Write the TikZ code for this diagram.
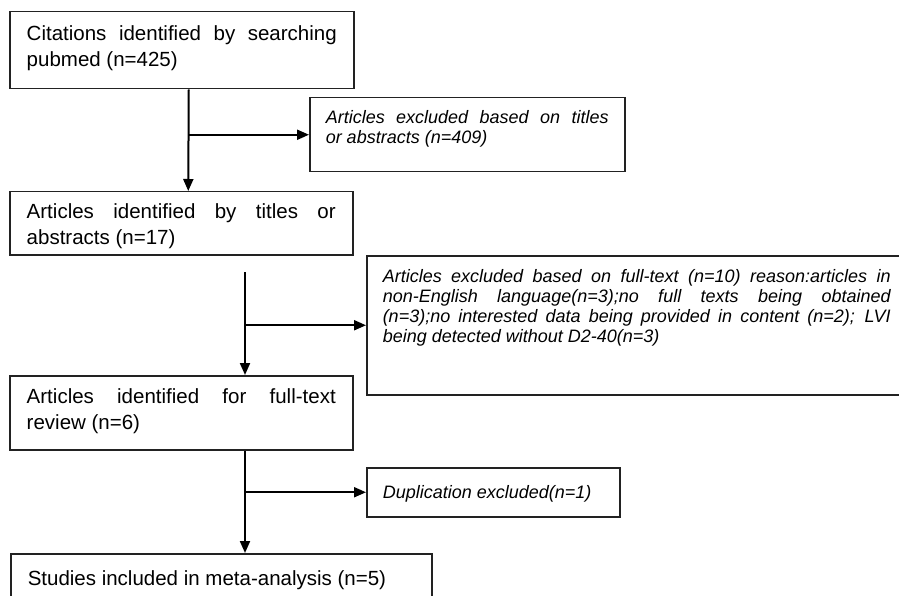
\documentclass[tikz,border=0pt]{standalone}
\usepackage{fontspec}
\setmainfont{Liberation Sans}
\usetikzlibrary{arrows.meta, positioning}
\hyphenpenalty=10000
\exhyphenpenalty=10000
\tolerance=10000
\definecolor{boxline}{HTML}{222222}

\begin{document}
\begin{tikzpicture}[x=1pt, y=-1pt, >={Triangle[length=12pt,width=10pt]},
  box/.style={draw=boxline, line width=1.5pt, anchor=north west, align=justify,
    inner xsep=17pt, inner ysep=0pt, font=\fontsize{20.5}{26}\selectfont},
  exbox/.style={box, inner xsep=16pt, font=\fontsize{18}{19.8}\selectfont\itshape},
  arr/.style={->, line width=2pt, draw=black}]
  \useasboundingbox (0,0) rectangle (899,596);
  % Hlavni krabice
  \node[box, text width=310pt, text height=29pt, text depth=48pt] (cite) at (9,11)
    {Citations identified by searching\linebreak pubmed (n=425)};
  \node[box, text width=309pt, text height=27pt, text depth=36pt] (ident) at (9,191)
    {Articles identified by titles or\linebreak abstracts (n=17)};
  \node[box, text width=309pt, text height=28pt, text depth=46pt] (review) at (9,375)
    {Articles identified for full-text\linebreak review (n=6)};
  \node[box, text width=387pt, text height=32pt, text depth=30pt] (incl) at (10,553)
    {Studies included in meta-analysis (n=5)};
  % Vyrazene
  \node[exbox, text width=283pt, text height=26pt, text depth=48pt] (exabs) at (309,97)
    {Articles excluded based on titles\linebreak or abstracts (n=409)};
  \node[exbox, text width=508pt, text height=27pt, text depth=112pt] (exfull) at (366,255)
    {Articles excluded based on full-text (n=10) reason:articles in\linebreak
     non-English language(n=3);no full texts being obtained\linebreak
     (n=3);no interested data being provided in content (n=2); LVI\linebreak
     being detected without D2-40(n=3)};
  \node[exbox, text width=221pt, text height=31pt, text depth=18pt] (exdup) at (366,467)
    {Duplication excluded(n=1)};
  % Sipky
  \draw[arr] ([xshift=7pt]cite.south) -- ([xshift=7pt]ident.north);
  \draw[arr] ([xshift=7pt]cite.south |- exabs.west) -- (exabs.west);
  \coordinate (gap) at (245,272);
  \draw[arr] (gap) -- (gap |- review.north);
  \draw[arr] (gap |- exfull.west) -- (exfull.west);
  \draw[arr] (gap |- review.south) -- (gap |- incl.north);
  \draw[arr] (gap |- exdup.west) -- (exdup.west);
\end{tikzpicture}
\end{document}
